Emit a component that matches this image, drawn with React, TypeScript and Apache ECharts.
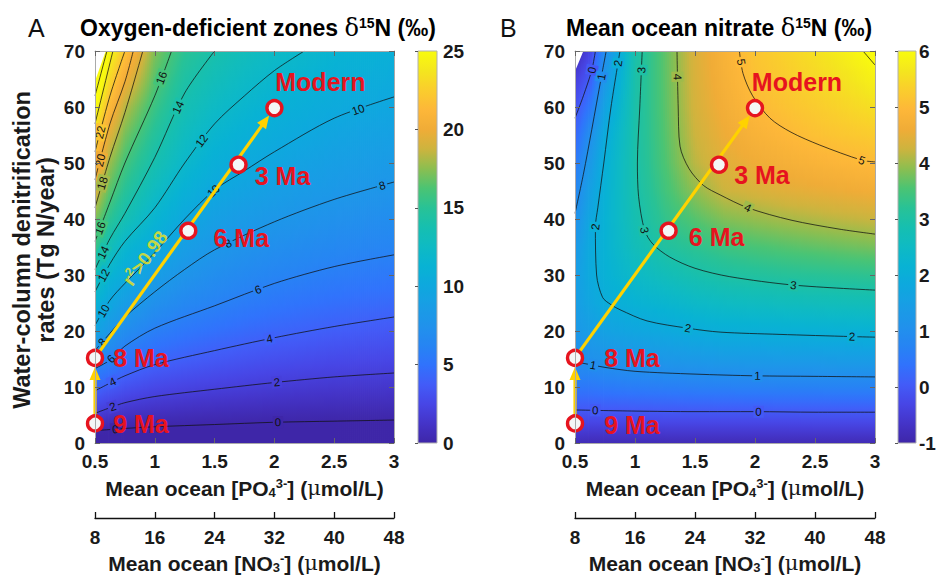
import React, { useEffect, useRef } from "react";
import * as echarts from "echarts";

// ---------- data ----------
const gridX = [0.5, 0.625, 0.75, 1, 1.25, 1.5, 1.75, 2, 2.25, 2.5, 2.75, 3];
const gridY = [0, 5, 10, 15, 20, 25, 30, 35, 40, 45, 50, 55, 60, 65, 70];

// Panel A: ODZ d15N (per mil); rows follow gridY, columns follow gridX
const odzDelta = [
  [-1.4, -1.2, -1.1, -1.0, -0.9, -0.9, -0.85, -0.8, -0.75, -0.7, -0.7, -0.65],
  [1.8, 1.33, 1.04, 0.78, 0.64, 0.54, 0.45, 0.37, 0.32, 0.28, 0.24, 0.21],
  [4.35, 3.68, 3.17, 2.6, 2.32, 2.12, 1.94, 1.77, 1.65, 1.54, 1.46, 1.4],
  [7.06, 6.08, 5.13, 4.31, 3.9, 3.57, 3.28, 3.05, 2.87, 2.71, 2.59, 2.5],
  [9.56, 8.14, 7.04, 5.85, 5.27, 4.88, 4.52, 4.25, 4.04, 3.82, 3.64, 3.5],
  [11.33, 9.83, 8.83, 7.38, 6.55, 6.1, 5.64, 5.28, 5.02, 4.79, 4.61, 4.45],
  [13.5, 11.38, 10.4, 8.86, 7.76, 7.1, 6.64, 6.27, 6.0, 5.72, 5.52, 5.35],
  [15.6, 13.33, 11.73, 10.25, 8.89, 8.09, 7.58, 7.18, 6.86, 6.58, 6.38, 6.22],
  [17.33, 15.08, 13.6, 11.5, 10.0, 9.03, 8.49, 8.08, 7.72, 7.42, 7.17, 6.98],
  [19.2, 16.5, 14.9, 12.67, 11.0, 9.96, 9.37, 8.88, 8.51, 8.21, 7.97, 7.75],
  [21.2, 17.75, 16.0, 13.78, 12.0, 10.81, 10.21, 9.68, 9.25, 8.9, 8.65, 8.45],
  [23.2, 19.33, 17.1, 14.73, 12.8, 11.66, 10.96, 10.41, 10.0, 9.59, 9.32, 9.1],
  [25.2, 21.2, 18.36, 15.64, 13.6, 12.46, 11.7, 11.1, 10.67, 10.25, 10.0, 9.76],
  [27.2, 23.0, 20.2, 16.5, 14.37, 13.23, 12.43, 11.79, 11.33, 10.87, 10.6, 10.38],
  [29.0, 24.8, 22.0, 17.3, 15.1, 14.0, 13.1, 12.45, 12.0, 11.5, 11.2, 10.9],
];

// Panel B: mean ocean nitrate d15N (per mil)
const nitrateDelta = [
  [-0.8, -0.85, -0.85, -0.85, -0.85, -0.85, -0.85, -0.85, -0.85, -0.85, -0.85, -0.85],
  [-0.12, -0.12, -0.12, -0.12, -0.1, -0.1, -0.1, -0.1, -0.09, -0.08, -0.08, -0.08],
  [0.5, 0.5, 0.55, 0.6, 0.63, 0.66, 0.68, 0.69, 0.7, 0.7, 0.71, 0.71],
  [1.04, 1.07, 1.15, 1.22, 1.28, 1.33, 1.38, 1.39, 1.41, 1.42, 1.44, 1.45],
  [1.3, 1.45, 1.6, 1.73, 1.83, 1.95, 2.02, 2.04, 2.07, 2.09, 2.11, 2.13],
  [1.45, 1.72, 1.95, 2.15, 2.28, 2.43, 2.53, 2.58, 2.63, 2.67, 2.7, 2.73],
  [1.45, 1.85, 2.1, 2.45, 2.69, 2.89, 3.02, 3.09, 3.15, 3.19, 3.23, 3.27],
  [1.3, 1.85, 2.15, 2.69, 3.07, 3.25, 3.42, 3.52, 3.6, 3.67, 3.73, 3.79],
  [1.05, 1.75, 2.15, 2.83, 3.3, 3.6, 3.85, 3.95, 4.04, 4.11, 4.18, 4.24],
  [0.78, 1.55, 2.12, 2.9, 3.45, 3.92, 4.25, 4.35, 4.45, 4.52, 4.58, 4.64],
  [0.5, 1.32, 2.06, 2.94, 3.55, 4.15, 4.45, 4.6, 4.72, 4.83, 4.92, 5.0],
  [0.18, 1.0, 1.92, 2.95, 3.6, 4.25, 4.58, 4.8, 4.96, 5.1, 5.2, 5.28],
  [-0.12, 0.5, 1.64, 2.95, 3.63, 4.32, 4.68, 4.97, 5.13, 5.27, 5.41, 5.55],
  [-0.45, 0.05, 1.28, 2.94, 3.65, 4.36, 4.76, 5.1, 5.27, 5.43, 5.6, 5.83],
  [-0.9, -0.35, 0.95, 2.93, 3.66, 4.38, 4.82, 5.18, 5.37, 5.57, 5.8, 6.1],
];

const odzContours = [
  { level: 0, points: [[0.5, 2.2], [0.75, 2.6], [1, 2.9], [1.5, 3.3], [2, 3.7], [2.5, 3.9], [3, 4.1]] },
  { level: 2, points: [[0.5, 5.3], [0.625, 6.3], [0.75, 7.2], [1, 8.3], [1.5, 9.6], [2, 10.8], [2.5, 11.8], [3, 12.5]] },
  { level: 4, points: [[0.5, 9.3], [0.625, 10.7], [0.75, 12], [1, 14], [1.5, 16.5], [2, 18.8], [2.5, 20.8], [3, 22.5]] },
  { level: 6, points: [[0.5, 13.3], [0.625, 14.8], [0.75, 17.3], [1, 20.5], [1.5, 24.5], [2, 28.5], [2.5, 31.5], [3, 33.6]] },
  { level: 8, points: [[0.5, 16.5], [0.625, 19.6], [0.75, 22.5], [1, 27], [1.25, 31], [1.5, 34.5], [2, 39.5], [2.5, 43.5], [3, 46.6]] },
  { level: 10, points: [[0.5, 21], [0.625, 25.5], [0.75, 28.5], [1, 34], [1.25, 40], [1.5, 45.2], [1.75, 48.6], [2, 52], [2.5, 58], [3, 61.8]] },
  { level: 12, points: [[0.5, 27], [0.625, 32], [0.75, 36], [1, 42], [1.25, 50], [1.5, 57], [1.75, 62], [2, 66.5], [2.25, 70]] },
  { level: 14, points: [[0.5, 31], [0.625, 36.5], [0.75, 41], [1, 51], [1.25, 62.5], [1.5, 70]] },
  { level: 16, points: [[0.5, 36], [0.625, 43], [0.75, 50], [1, 62], [1.14, 70]] },
  { level: 18, points: [[0.5, 42], [0.625, 51], [0.75, 59], [0.9, 70]] },
  { level: 20, points: [[0.5, 47], [0.625, 57], [0.75, 64.5], [0.82, 70]] },
  { level: 22, points: [[0.5, 52], [0.625, 62], [0.75, 70]] },
  { level: 24, points: [[0.5, 57], [0.65, 70]] },
  { level: 26, points: [[0.5, 62], [0.6, 70]] },
];

const nitrateContours = [
  { level: 0, points: [[0.5, 5.9], [1, 5.7], [1.5, 5.6], [2, 5.6], [2.5, 5.5], [3, 5.5]] },
  { level: 0, points: [[0.67, 70], [0.64, 66.6], [0.57, 62], [0.5, 58]] },
  { level: 1, points: [[0.5, 14.5], [0.65, 13.9], [0.75, 13.5], [1, 12.8], [1.5, 12.3], [2, 12], [2.5, 11.9], [3, 11.8]] },
  { level: 1, points: [[0.76, 70], [0.72, 65.4], [0.64, 56], [0.57, 48], [0.5, 41]] },
  { level: 2, points: [[0.875, 70], [0.8, 60], [0.74, 50], [0.69, 42], [0.67, 38.6], [0.68, 30], [0.73, 26], [0.8, 24.7], [0.875, 23.8], [1.1, 21.8], [1.44, 20.5], [1.71, 19.8], [2.2, 19.4], [2.81, 19], [3, 18.9]] },
  { level: 3, points: [[1.06, 70], [1.04, 60], [1.02, 50], [1.03, 44], [1.08, 38], [1.15, 35.5], [1.29, 33.2], [1.5, 31.2], [1.79, 29.7], [2.32, 28.2], [3, 27.3]] },
  { level: 4, points: [[1.35, 70], [1.36, 60], [1.375, 53], [1.45, 49], [1.57, 46], [1.71, 44.3], [1.94, 42], [2.3, 39.8], [2.7, 38.2], [3, 37.3]] },
  { level: 5, points: [[1.87, 70], [1.9, 66], [1.98, 62], [2.125, 58], [2.3, 55.5], [2.54, 53.2], [2.89, 50.5], [3, 50.2]] },
  { level: 6, points: [[2.9, 70], [3, 67.5]] },
];

// contour label anchors [po4, rate, level]
const odzContourLabels = [
  [0.67, 2.5, 0], [2.03, 3.7, 0], [0.65, 6.4, 2], [2.02, 10.9, 2], [0.65, 10.8, 4], [1.96, 18.6, 4],
  [0.64, 14.9, 6], [1.86, 27.6, 6], [0.56, 18, 8], [1.61, 35.8, 8], [2.9, 46, 8], [0.57, 23.6, 10],
  [1.49, 45, 10], [2.7, 59.5, 10], [0.57, 30, 12], [1.39, 54, 12], [0.57, 34, 14], [1.19, 60, 14],
  [0.54, 38.4, 16], [1.08, 65, 16], [0.56, 46.4, 18], [0.54, 50.5, 20], [0.54, 55.5, 22],
];
const nitrateContourLabels = [
  [0.64, 66.6, 0], [0.72, 65.4, 1], [0.86, 67.8, 2], [1.055, 66.6, 3], [1.355, 65.4, 4], [1.88, 68, 5],
  [0.67, 38.6, 2], [1.08, 38, 3], [1.94, 42, 4], [2.89, 50.5, 5], [2.32, 28.2, 3], [1.44, 20.5, 2],
  [2.81, 19, 2], [0.65, 13.9, 1], [2.02, 12, 1], [0.67, 5.9, 0], [2.03, 5.5, 0],
];

// undefined (white) corners of the model fields
const odzBlank = [[0.5, 70], [0.59, 70], [0.5, 64.6]];
const nitrateBlank = [[0.5, 70], [0.57, 70], [0.5, 66.4]];

// time slices
const ageNames = ["9 Ma", "8 Ma", "6 Ma", "3 Ma", "Modern"];
const agePO4 = [0.5, 0.5, 1.28, 1.7, 2.0];
const ageRate = [3.5, 15.2, 37.9, 49.7, 59.8];
const arrowLinks = [[0, 1], [1, 4]];
const fitAnchor = [0.92, 33];

const po4Ticks = { min: 0.5, max: 3, step: 0.5 };
const no3Ticks = { min: 8, max: 48, step: 8 };
const rateTicks = { min: 0, max: 70, step: 10 };
const odzRange = [0, 25];
const nitrateRange = [-1, 6];

// ---------- styling ----------
const FONT = '"Liberation Sans", Arial, Helvetica, sans-serif';
const RED = "#e6141f";
const YELLOW = "#ffd200";
const INK = "#1a1a1a";

const PARULA: number[][] = [
  [0.0, 62, 38, 168], [0.05, 68, 52, 200], [0.1, 71, 70, 230], [0.15, 66, 92, 248],
  [0.2, 48, 115, 252], [0.25, 38, 133, 243], [0.3, 32, 146, 235], [0.35, 24, 157, 229],
  [0.4, 14, 168, 222], [0.45, 8, 178, 212], [0.5, 14, 186, 196], [0.55, 22, 191, 176],
  [0.6, 40, 194, 150], [0.65, 75, 196, 115], [0.7, 140, 190, 80], [0.75, 205, 180, 62],
  [0.8, 240, 172, 55], [0.85, 253, 183, 57], [0.9, 250, 205, 45], [0.95, 244, 230, 30],
  [1.0, 249, 251, 14],
];

function parula(t: number): string {
  const tt = Math.max(0, Math.min(1, t));
  for (let k = 1; k < PARULA.length; k++) {
    if (tt <= PARULA[k][0]) {
      const a = PARULA[k - 1];
      const b = PARULA[k];
      const f = (tt - a[0]) / (b[0] - a[0]);
      const c = [1, 2, 3].map((j) => Math.round(a[j] + (b[j] - a[j]) * f));
      return `rgb(${c[0]},${c[1]},${c[2]})`;
    }
  }
  return "rgb(249,251,14)";
}
const colorOf = (v: number, range: number[]) => parula((v - range[0]) / (range[1] - range[0]));

function heatRenderer(grid: number[][], range: number[]) {
  return (params: any, api: any) => {
    const i = api.value(2);
    const yMax = gridY[gridY.length - 1];
    const yMin = gridY[0];
    const tl = api.coord([gridX[i], yMax]);
    const br = api.coord([gridX[i + 1], yMin]);
    const w = br[0] - tl[0];
    const h = br[1] - tl[1];
    const n = Math.max(1, Math.ceil(w / 2));
    const children: any[] = [];
    for (let k = 0; k < n; k++) {
      const f = (k + 0.5) / n;
      const col = gridY.map((_, r) => grid[r][i] * (1 - f) + grid[r][i + 1] * f);
      const stops: any[] = [];
      for (let r = gridY.length - 1; r >= 0; r--) {
        if (r < gridY.length - 1) {
          for (let s = 1; s < 4; s++) {
            const yy = gridY[r + 1] + ((gridY[r] - gridY[r + 1]) * s) / 4;
            const vv = col[r + 1] + ((col[r] - col[r + 1]) * s) / 4;
            stops.push({ offset: (yMax - yy) / (yMax - yMin), color: colorOf(vv, range) });
          }
        }
        stops.push({ offset: (yMax - gridY[r]) / (yMax - yMin), color: colorOf(col[r], range) });
      }
      children.push({
        type: "rect",
        shape: { x: tl[0] + (w * k) / n, y: tl[1], width: w / n + 0.8, height: h },
        style: { fill: new echarts.graphic.LinearGradient(0, 0, 0, 1, stops) },
      });
    }
    return { type: "group", children };
  };
}

function blankRenderer(poly: number[][]) {
  return (params: any, api: any) => ({
    type: "polygon",
    shape: { points: poly.map((p) => api.coord(p)) },
    style: { fill: "#ffffff" },
  });
}

function labelRenderer(contours: { level: number; points: number[][] }[], range: number[]) {
  return (params: any, api: any) => {
    const p = api.coord([api.value(0), api.value(1)]);
    const level = api.value(2);
    let best: any = null;
    contours.forEach((c) => {
      if (c.level !== level) return;
      for (let k = 0; k < c.points.length - 1; k++) {
        const a = api.coord(c.points[k]);
        const b = api.coord(c.points[k + 1]);
        const dx = b[0] - a[0];
        const dy = b[1] - a[1];
        const L2 = dx * dx + dy * dy || 1;
        let t = ((p[0] - a[0]) * dx + (p[1] - a[1]) * dy) / L2;
        t = Math.max(0, Math.min(1, t));
        const qx = a[0] + t * dx;
        const qy = a[1] + t * dy;
        const d = Math.hypot(p[0] - qx, p[1] - qy);
        if (!best || d < best.d) best = { d, qx, qy, dx, dy };
      }
    });
    if (!best) return null;
    let ang = Math.atan2(best.dy, best.dx);
    if (best.dx < 0) ang = Math.atan2(-best.dy, -best.dx);
    return {
      type: "text",
      x: best.qx,
      y: best.qy,
      rotation: -ang,
      style: {
        text: String(level),
        fill: "#111",
        fontSize: 11.5,
        fontFamily: FONT,
        align: "center",
        verticalAlign: "middle",
        backgroundColor: colorOf(level, range),
        padding: [0, 2],
      },
    };
  };
}

function arrowRenderer() {
  return (params: any, api: any) => {
    const p0 = api.coord([api.value(0), api.value(1)]);
    const p1 = api.coord([api.value(2), api.value(3)]);
    const dx = p1[0] - p0[0];
    const dy = p1[1] - p0[1];
    const L = Math.hypot(dx, dy) || 1;
    const ux = dx / L;
    const uy = dy / L;
    const tip = [p1[0] - ux * 9, p1[1] - uy * 9];
    const base = [tip[0] - ux * 13, tip[1] - uy * 13];
    const nx = -uy;
    const ny = ux;
    return {
      type: "group",
      children: [
        { type: "line", shape: { x1: p0[0], y1: p0[1], x2: base[0] + ux, y2: base[1] + uy }, style: { stroke: YELLOW, lineWidth: 3.2 } },
        {
          type: "polygon",
          shape: { points: [tip, [base[0] + nx * 5.5, base[1] + ny * 5.5], [base[0] - nx * 5.5, base[1] - ny * 5.5]] },
          style: { fill: YELLOW },
        },
      ],
    };
  };
}

function colorbarRenderer(range: number[]) {
  return (params: any, api: any) => {
    const a = api.coord([0, range[1]]);
    const b = api.coord([1, range[0]]);
    const stops: any[] = [];
    for (let k = 0; k <= 60; k++) {
      stops.push({ offset: k / 60, color: colorOf(range[1] - ((range[1] - range[0]) * k) / 60, range) });
    }
    return {
      type: "rect",
      shape: { x: a[0], y: a[1], width: b[0] - a[0], height: b[1] - a[1] },
      style: { fill: new echarts.graphic.LinearGradient(0, 0, 0, 1, stops), stroke: "#b0b0b0", lineWidth: 1 },
    };
  };
}

const tickLabelStyle = { fontSize: 19, fontWeight: "bold" as const, color: INK, fontFamily: FONT };
const nameRich = {
  b: { fontSize: 21, fontWeight: "bold", fontFamily: FONT, color: INK, lineHeight: 22 },
  sub: { fontSize: 13, fontWeight: "bold", fontFamily: FONT, color: INK, verticalAlign: "bottom", lineHeight: 13 },
  sup: { fontSize: 13, fontWeight: "bold", fontFamily: FONT, color: INK, verticalAlign: "top", lineHeight: 13 },
  mu: { fontSize: 21, fontFamily: "DejaVu Serif", color: INK, lineHeight: 22 },
};

const markerLayout: Record<string, any[]> = {
  A: [
    { position: "right", distance: 9, offset: [0, 1] },
    { position: "right", distance: 9, offset: [0, 0] },
    { position: "right", distance: 16, offset: [0, 7] },
    { position: "right", distance: 7, offset: [0, 11] },
    { position: "top", distance: 4, offset: [46, 0] },
  ],
  B: [
    { position: "right", distance: 20, offset: [0, 2] },
    { position: "right", distance: 20, offset: [0, 0] },
    { position: "right", distance: 11, offset: [0, 6] },
    { position: "right", distance: 6, offset: [0, 10] },
    { position: "top", distance: 4, offset: [42, 0] },
  ],
};

const frameLine = { show: true, onZero: false, lineStyle: { color: "#aaaaaa" } };
const innerTick = { inside: true, length: 5, lineStyle: { color: "#666" } };

function panelAxes(gi: number) {
  const x = [
    {
      gridIndex: gi, type: "value", position: "bottom", min: po4Ticks.min, max: po4Ticks.max, interval: po4Ticks.step,
      axisLine: frameLine, z: 10, axisTick: innerTick,
      axisLabel: { ...tickLabelStyle, margin: 9 }, splitLine: { show: false },
      name: "{b|Mean ocean [PO}{sub|4}{sup|3-}{b|] (}{mu|μ}{b|mol/L)}", nameLocation: "middle", nameGap: 34,
      nameTextStyle: { rich: nameRich },
    },
    {
      gridIndex: gi, type: "value", position: "bottom", offset: 75, min: no3Ticks.min, max: no3Ticks.max, interval: no3Ticks.step,
      axisLine: { show: true, onZero: false, lineStyle: { color: "#111", width: 1.3 } }, z: 10,
      axisTick: { inside: true, length: 6, lineStyle: { color: "#111", width: 1.3 } },
      axisLabel: { ...tickLabelStyle, margin: 10 }, splitLine: { show: false },
      name: "{b|Mean ocean [NO}{sub|3}{sup|-}{b|] (}{mu|μ}{b|mol/L)}", nameLocation: "middle", nameGap: 34,
      nameTextStyle: { rich: nameRich },
    },
    {
      gridIndex: gi, type: "value", position: "top", min: po4Ticks.min, max: po4Ticks.max, interval: po4Ticks.step,
      axisLine: frameLine, z: 10, axisTick: innerTick,
      axisLabel: { show: false }, splitLine: { show: false },
    },
  ];
  const y = [
    {
      gridIndex: gi, type: "value", position: "left", min: rateTicks.min, max: rateTicks.max, interval: rateTicks.step,
      axisLine: frameLine, z: 10, axisTick: innerTick,
      axisLabel: { ...tickLabelStyle, margin: 10 }, splitLine: { show: false },
    },
    {
      gridIndex: gi, type: "value", position: "right", min: rateTicks.min, max: rateTicks.max, interval: rateTicks.step,
      axisLine: frameLine, z: 10, axisTick: innerTick,
      axisLabel: { show: false }, splitLine: { show: false },
    },
  ];
  return { x, y };
}

function colorbarAxes(gi: number, range: number[], step: number, margin: number) {
  return {
    x: { gridIndex: gi, type: "value", min: 0, max: 1, show: false },
    y: {
      gridIndex: gi, type: "value", position: "right", min: range[0], max: range[1], interval: step,
      axisLine: { show: false }, z: 10,
      axisTick: { inside: true, length: 3, lineStyle: { color: "#555" } },
      axisLabel: { ...tickLabelStyle, margin }, splitLine: { show: false },
    },
  };
}

function panelSeries(xi: number, yi: number, grid: number[][], range: number[], contours: any[], labels: number[][], blank: number[][], key: string) {
  const s: any[] = [];
  s.push({
    type: "custom", xAxisIndex: xi, yAxisIndex: yi, clip: true, silent: true, z: 1,
    renderItem: heatRenderer(grid, range),
    data: gridX.slice(0, -1).map((x, i) => [x, gridY[0], i]),
  });
  s.push({
    type: "custom", xAxisIndex: xi, yAxisIndex: yi, clip: true, silent: true, z: 2,
    renderItem: blankRenderer(blank), data: [blank[0]],
  });
  contours.forEach((c) => {
    s.push({
      type: "line", xAxisIndex: xi, yAxisIndex: yi, data: c.points, symbol: "none", showSymbol: false,
      smooth: 0.3, clip: true, silent: true, z: 3, lineStyle: { color: "#111", width: 0.75 },
    });
  });
  s.push({
    type: "custom", xAxisIndex: xi, yAxisIndex: yi, clip: true, silent: true, z: 4,
    renderItem: labelRenderer(contours, range), data: labels,
  });
  s.push({
    type: "custom", xAxisIndex: xi, yAxisIndex: yi, silent: true, z: 5,
    renderItem: arrowRenderer(),
    data: arrowLinks.map(([a, b]) => [agePO4[a], ageRate[a], agePO4[b], ageRate[b]]),
  });
  s.push({
    type: "scatter", xAxisIndex: xi, yAxisIndex: yi, z: 6, symbol: "circle", symbolSize: 15,
    itemStyle: { color: "#f4f6f6", borderColor: RED, borderWidth: 3.4, opacity: 1 },
    label: { show: true, color: RED, fontSize: 25, fontWeight: "bold", fontFamily: FONT, formatter: "{b}" },
    data: ageNames.map((n, k) => ({ name: n, value: [agePO4[k], ageRate[k]], label: markerLayout[key][k] })),
  });
  return s;
}

function buildOption() {
  const A = panelAxes(0);
  const B = panelAxes(2);
  const cA = colorbarAxes(1, odzRange, 5, 6);
  const cB = colorbarAxes(3, nitrateRange, 1, 3);
  const series: any[] = [
    ...panelSeries(0, 0, odzDelta, odzRange, odzContours, odzContourLabels, odzBlank, "A"),
    ...panelSeries(4, 3, nitrateDelta, nitrateRange, nitrateContours, nitrateContourLabels, nitrateBlank, "B"),
    {
      type: "scatter", xAxisIndex: 0, yAxisIndex: 0, z: 7, symbolSize: 0, silent: true,
      data: [fitAnchor],
      label: {
        show: true, position: "inside", rotate: 54, formatter: "{r|r}{s|2}{r|>0.98}",
        rich: {
          r: { color: "#f7e41a", fontSize: 19, fontWeight: "bold", fontFamily: FONT, lineHeight: 22 },
          s: { color: "#f7e41a", fontSize: 12, fontWeight: "bold", fontFamily: FONT, verticalAlign: "top", lineHeight: 12 },
        },
      },
    },
    { type: "custom", xAxisIndex: 3, yAxisIndex: 2, silent: true, renderItem: colorbarRenderer(odzRange), data: [[0.5, odzRange[0]]] },
    { type: "custom", xAxisIndex: 7, yAxisIndex: 5, silent: true, renderItem: colorbarRenderer(nitrateRange), data: [[0.5, nitrateRange[0]]] },
  ];

  const titleRich = {
    t: { fontSize: 23, fontWeight: "bold", fontFamily: FONT, color: "#111", lineHeight: 26 },
    d: { fontSize: 24, fontFamily: "DejaVu Serif", color: "#111", lineHeight: 26 },
    s: { fontSize: 14, fontWeight: "bold", fontFamily: FONT, color: "#111", verticalAlign: "top", lineHeight: 14, padding: [1, 0, 0, 0] },
  };

  const gridBase = { outerBoundsMode: "none", containLabel: false };
  return {
    animation: false,
    backgroundColor: "#ffffff",
    grid: [
      { ...gridBase, left: 95, top: 51, width: 299, height: 392 },
      { ...gridBase, left: 418, top: 51, width: 19, height: 392 },
      { ...gridBase, left: 575, top: 51, width: 300, height: 392 },
      { ...gridBase, left: 898, top: 51, width: 18, height: 392 },
    ],
    xAxis: [...A.x, cA.x, ...B.x, cB.x],
    yAxis: [...A.y, cA.y, ...B.y, cB.y],
    series,
    graphic: [
      { type: "text", x: 28, y: 28, style: { text: "A", fontSize: 25, fontFamily: FONT, fill: "#111", verticalAlign: "middle" } },
      { type: "text", x: 80, y: 28, style: { text: "{t|Oxygen-deficient zones }{d|δ}{s|15}{t|N (‰)}", rich: titleRich, verticalAlign: "middle" } },
      { type: "text", x: 500, y: 28, style: { text: "B", fontSize: 25, fontFamily: FONT, fill: "#111", verticalAlign: "middle" } },
      { type: "text", x: 566, y: 28, style: { text: "{t|Mean ocean nitrate }{d|δ}{s|15}{t|N (‰)}", rich: titleRich, verticalAlign: "middle" } },
      {
        type: "text", x: 34, y: 250, rotation: Math.PI / 2,
        style: {
          text: "Water-column denitrification\nrates (Tg N/year)", fontSize: 23.5, fontWeight: "bold", fontFamily: FONT,
          fill: INK, align: "center", verticalAlign: "middle", lineHeight: 24,
        },
      },
    ],
  };
}

export default function App() {
  const ref = useRef<HTMLDivElement>(null);
  useEffect(() => {
    document.body.style.margin = "0";
    if (!ref.current) return;
    const chart = echarts.init(ref.current, null, { renderer: "svg" });
    chart.setOption(buildOption() as any);
    return () => chart.dispose();
  }, []);
  return <div ref={ref} style={{ width: 938, height: 578 }} />;
}
